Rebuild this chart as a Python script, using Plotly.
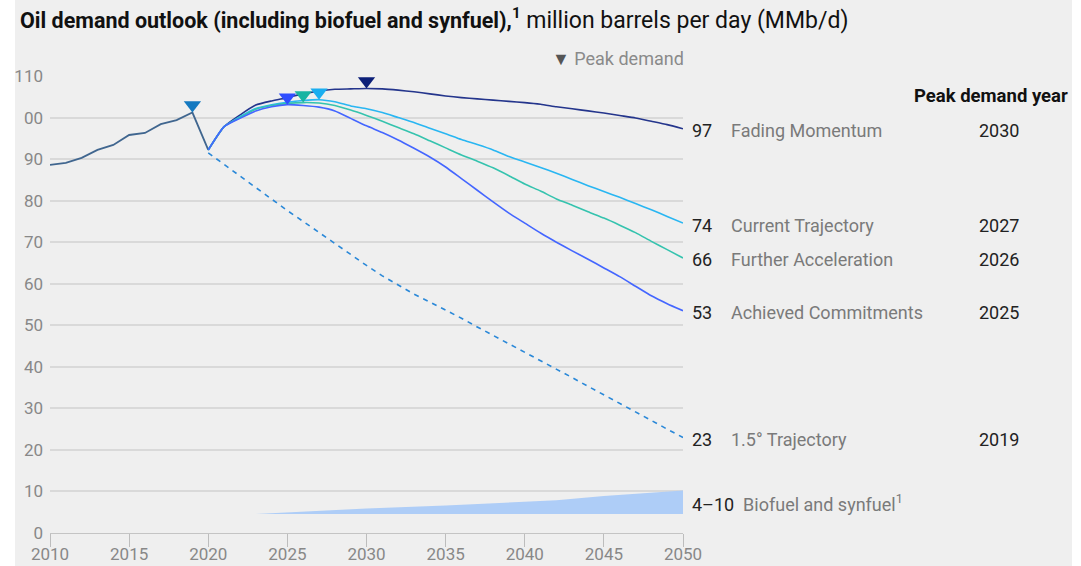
import plotly.graph_objects as go

# ---------------- data ----------------
hist_years = list(range(2010, 2021))
hist_values = [88.6, 89.1, 90.3, 92.2, 93.4, 95.8, 96.3, 98.4, 99.4, 101.2, 92.2]

scen_years = list(range(2020, 2051))
fading = [92.2, 97.8, 100.6, 103.0, 104.0, 104.8, 105.7, 106.4, 106.8, 106.9, 107.0,
          106.9, 106.6, 106.2, 105.7, 105.2, 104.8, 104.5, 104.2, 103.9, 103.6,
          103.2, 102.6, 102.1, 101.6, 101.1, 100.5, 99.9, 99.1, 98.3, 97.3]
current = [92.2, 97.8, 100.2, 102.2, 103.1, 103.7, 104.1, 104.3, 103.8, 102.8, 102.1,
           101.2, 100.0, 98.8, 97.4, 96.1, 94.7, 93.5, 92.2, 90.6, 89.3,
           88.0, 86.6, 85.1, 83.6, 82.2, 80.8, 79.3, 77.8, 76.2, 74.6]
further = [92.2, 97.8, 100.0, 102.0, 102.9, 103.4, 103.6, 103.5, 102.9, 101.8, 100.5,
           99.1, 97.6, 96.1, 94.4, 92.7, 91.0, 89.5, 87.9, 86.0, 84.0,
           82.3, 80.4, 78.9, 77.3, 75.8, 74.1, 72.3, 70.2, 68.2, 66.2]
achieved = [92.2, 97.8, 99.8, 101.6, 102.6, 103.1, 102.9, 102.5, 101.6, 99.8, 98.0,
            96.4, 94.6, 92.6, 90.5, 88.1, 85.3, 82.5, 79.7, 77.0, 74.6,
            72.2, 70.0, 67.9, 65.9, 63.8, 61.7, 59.4, 57.1, 55.2, 53.5]
onefive = [91.5, 88.7, 85.9, 83.1, 80.3, 77.6, 75.0, 72.3, 69.7, 67.0, 64.4,
           61.9, 59.6, 57.5, 55.6, 53.7, 51.7, 49.6, 47.6, 45.5, 43.5,
           41.5, 39.4, 37.4, 35.3, 33.3, 31.2, 29.1, 27.1, 25.0, 23.0]

bio_years = [2023, 2025, 2030, 2035, 2040, 2042, 2045, 2050]
bio_low = [4.6, 4.6, 4.6, 4.6, 4.6, 4.6, 4.6, 4.6]
bio_high = [4.6, 5.0, 5.9, 6.6, 7.5, 7.9, 8.9, 10.2]

scen_names = ["Fading Momentum", "Current Trajectory", "Further Acceleration",
              "Achieved Commitments", "1.5° Trajectory"]
scen_end_labels = ["97", "74", "66", "53", "23"]
scen_peak_years = [2030, 2027, 2026, 2025, 2019]

x_ticks = [2010, 2015, 2020, 2025, 2030, 2035, 2040, 2045, 2050]
y_ticks = [0, 10, 20, 30, 40, 50, 60, 70, 80, 90, 100, 110]
y_ticktext = ["0", "10", "20", "30", "40", "50", "60", "70", "80", "90", "00", "110"]

# ---------------- style ----------------
BG = "#efefef"
FONT = "Roboto"
W, H = 1081, 566
ML, MR, MT, MB = 50, 398, 76, 33
plot_w = W - ML - MR
plot_h = H - MT - MB
px_per_unit = plot_h / 110.0
LBL = 18

line_colors = ["#24358c", "#29b6f2", "#35c3ae", "#4466ff", "#2a88d8"]
marker_colors = ["#0c1f78", "#1aaef0", "#18b4a2", "#2f4dff", "#1479c0"]
hist_color = "#40668f"
bio_color = "#aecdf7"

fig = go.Figure()

# biofuel band
fig.add_trace(go.Scatter(x=bio_years, y=bio_low, mode="lines", line=dict(width=0),
                         hoverinfo="skip", showlegend=False))
fig.add_trace(go.Scatter(x=bio_years, y=bio_high, mode="lines", line=dict(width=0),
                         fill="tonexty", fillcolor=bio_color, showlegend=False))

# 1.5 dashed
fig.add_trace(go.Scatter(x=scen_years, y=onefive, mode="lines",
                         line=dict(color=line_colors[4], width=1.6, dash="5px,5px"),
                         showlegend=False))

# historical
fig.add_trace(go.Scatter(x=hist_years, y=hist_values, mode="lines",
                         line=dict(color=hist_color, width=1.8), showlegend=False))

series = [fading, current, further, achieved]
for vals, col in zip(series, line_colors[:4]):
    fig.add_trace(go.Scatter(x=scen_years, y=vals, mode="lines",
                             line=dict(color=col, width=1.6, shape="spline", smoothing=0.5),
                             showlegend=False))

# peak markers
msize = 15
offset = (msize / 2) / px_per_unit
peak_sources = [(scen_years, fading), (scen_years, current), (scen_years, further),
                (scen_years, achieved), (hist_years, hist_values)]
for (xs, ys), yr, col in zip(peak_sources, scen_peak_years, marker_colors):
    pv = ys[xs.index(yr)]
    fig.add_trace(go.Scatter(x=[yr], y=[pv + offset], mode="markers",
                             marker=dict(symbol="triangle-down", size=msize, color=col,
                                         line=dict(width=0)),
                             cliponaxis=False, showlegend=False))

# right-side labels
end_vals = [fading[-1], current[-1], further[-1], achieved[-1], onefive[-1]]
ann = []
for v, lab, name, py in zip(end_vals, scen_end_labels, scen_names, scen_peak_years):
    ann.append(dict(x=2050, y=v, xref="x", yref="y", text=lab, showarrow=False,
                    xanchor="left", xshift=7, yshift=-2,
                    font=dict(size=LBL, color="#222", family=FONT)))
    ann.append(dict(x=2050, y=v, xref="x", yref="y", text=name, showarrow=False,
                    xanchor="left", xshift=46, yshift=-2,
                    font=dict(size=LBL, color="#7a7a7a", family=FONT)))
    ann.append(dict(x=2050, y=v, xref="x", yref="y", text=str(py), showarrow=False,
                    xanchor="left", xshift=294, yshift=-2,
                    font=dict(size=LBL, color="#222", family=FONT)))

bio_mid = (bio_low[-1] + bio_high[-1]) / 2
ann.append(dict(x=2050, y=bio_mid, xref="x", yref="y",
                text="4–10  <span style='color:#7a7a7a'>Biofuel and synfuel<sup>1</sup></span>",
                showarrow=False, xanchor="left", xshift=7, yshift=-1,
                font=dict(size=LBL, color="#222", family=FONT)))

ann.append(dict(x=1.0, y=(plot_h + 17) / plot_h, xref="paper", yref="paper",
                text="<span style='color:#555'>▼</span> Peak demand", showarrow=False,
                xanchor="right", yanchor="middle", xshift=3,
                font=dict(size=LBL, color="#8a8a8a", family=FONT)))
ann.append(dict(x=(1070 - ML) / plot_w, y=(plot_h - 20) / plot_h, xref="paper", yref="paper",
                text="<b>Peak demand year</b>", showarrow=False,
                xanchor="right", yanchor="middle",
                font=dict(size=18.5, color="#111", family=FONT)))

fig.update_layout(
    width=W, height=H, autosize=False,
    margin=dict(l=ML, r=MR, t=MT, b=MB, autoexpand=False),
    paper_bgcolor="white", plot_bgcolor=BG,
    font=dict(family=FONT),
    title=dict(text="<b>Oil demand outlook (including biofuel and synfuel),<sup>1</sup></b>"
                    "<span style='font-size:23px'> million barrels per day (MMb/d)</span>",
               x=20 / W, xanchor="left", xref="container",
               y=1 - 20 / H, yanchor="middle", yref="container",
               font=dict(size=21.5, color="#111", family=FONT)),
    annotations=ann,
    shapes=[dict(type="rect", xref="paper", yref="paper",
                 x0=(15 - ML) / plot_w, x1=(1072 - ML) / plot_w,
                 y0=-MB / plot_h - 0.01, y1=(plot_h + MT) / plot_h + 0.01,
                 fillcolor=BG, line=dict(width=0), layer="below")],
)
fig.update_xaxes(range=[2010, 2050], tickvals=x_ticks, ticks="outside", ticklen=13,
                 tickcolor="#bdbdbd", tickwidth=1, showline=True, linecolor="#c4c4c4",
                 linewidth=1, showgrid=False, zeroline=False, automargin=False,
                 ticklabelstandoff=-7,
                 tickfont=dict(size=17, color="#888", family=FONT))
fig.update_yaxes(range=[0, 110], tickvals=y_ticks, ticktext=y_ticktext, showgrid=True,
                 gridcolor="#d9d9d9", gridwidth=1.5, zeroline=False, showline=False,
                 automargin=False, ticklabelstandoff=6,
                 tickfont=dict(size=17, color="#888", family=FONT))

fig.write_html("out.html", config={"displayModeBar": False},
               post_script="document.body.style.margin='0';document.body.style.overflow='hidden';")
